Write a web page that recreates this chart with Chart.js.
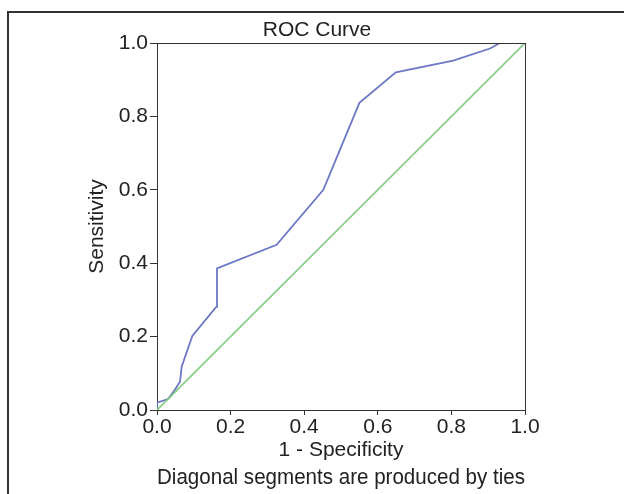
<!DOCTYPE html>
<html>
<head>
<meta charset="utf-8">
<script src="https://cdn.jsdelivr.net/npm/chart.js@4/dist/chart.umd.min.js"></script>
<style>
  html, body { margin: 0; padding: 0; background: #fff; }
  #wrap { position: relative; width: 624px; height: 494px; }
  #frame { position: absolute; left: 7px; top: 11px; right: 0; bottom: 0;
           border-left: 2px solid #333; border-top: 2px solid #333; }
  canvas { position: absolute; left: 0; top: 0; }
</style>
</head>
<body>
<div id="wrap">
  <div id="frame"></div>
  <canvas id="c" width="624" height="494"></canvas>
</div>
<script>
// Data
const fpr = [0.0, 0.0, 0.03, 0.045, 0.0625, 0.067, 0.096, 0.161, 0.163, 0.325, 0.452, 0.55, 0.649, 0.805, 0.905, 0.932, 1.0];
const tpr = [0.0, 0.02, 0.03, 0.05, 0.077, 0.118, 0.202, 0.281, 0.386, 0.45, 0.6, 0.837, 0.92, 0.952, 0.985, 1.0, 1.0];
const refX = [0.0, 1.0];
const refY = [0.0, 1.0];
const tickValues = [0.0, 0.2, 0.4, 0.6, 0.8, 1.0];
const tickLabels = ['0.0', '0.2', '0.4', '0.6', '0.8', '1.0'];

const FONT = "'Liberation Sans', Arial, sans-serif";
const FS = 21;
const roc = fpr.map((x, i) => ({ x: x, y: tpr[i] }));
const ref = refX.map((x, i) => ({ x: x, y: refY[i] }));

function labelFor(v) {
  const i = tickValues.findIndex(t => Math.abs(t - v) < 1e-6);
  return i >= 0 ? tickLabels[i] : '';
}

const framePlugin = {
  id: 'frameTop',
  afterDatasetsDraw(chart) {
    const { ctx, chartArea: a } = chart;
    ctx.save();
    ctx.strokeStyle = '#333';
    ctx.lineWidth = 1;
    ctx.beginPath();
    ctx.moveTo(a.left, a.top + 0.5);
    ctx.lineTo(a.right + 0.5, a.top + 0.5);
    ctx.stroke();
    ctx.restore();
  }
};

Chart.defaults.font.family = FONT;
Chart.defaults.color = '#222';

new Chart(document.getElementById('c'), {
  type: 'scatter',
  data: {
    datasets: [
      { data: roc, showLine: true, borderColor: 'rgb(108,120,196)', borderWidth: 1.8,
        pointRadius: 0, tension: 0, order: 2 },
      { data: ref, showLine: true, borderColor: 'rgba(125,202,125,0.9)', borderWidth: 1.8,
        pointRadius: 0, tension: 0, order: 1 }
    ]
  },
  options: {
    responsive: false,
    animation: false,
    layout: { padding: { left: 10, right: 0, top: 0, bottom: 0 } },
    plugins: {
      legend: { display: false },
      tooltip: { enabled: false },
      title: { display: true, text: 'ROC Curve', color: '#222',
               font: { size: FS, weight: 'normal', family: FONT },
               padding: { top: 17.8, bottom: 0 } },
      subtitle: { display: true, position: 'bottom', fullSize: false,
                  text: 'Diagonal segments are produced by ties', color: '#222',
                  font: { size: 22, weight: 'normal', family: FONT },
                  padding: { top: 1.8, bottom: 2.8 } }
    },
    scales: {
      x: {
        type: 'linear', min: 0, max: 1,
        afterFit(s) { s.height = 53; },
        afterBuildTicks(s) { s.ticks = tickValues.map(v => ({ value: v })); },
        ticks: { callback: v => labelFor(v), padding: 0, color: '#222',
                 font: { size: FS, family: FONT }, maxRotation: 0 },
        grid: { display: true, drawOnChartArea: false, drawTicks: true, tickLength: 5,
                color: '#333', lineWidth: 1 },
        border: { display: true, color: '#333', width: 1 },
        title: { display: true, text: '1 - Specificity', color: '#222',
                 font: { size: FS, family: FONT }, padding: { top: 0, bottom: 0 } }
      },
      y: {
        type: 'linear', min: 0, max: 1,
        afterFit(s) { s.width = 147; },
        afterBuildTicks(s) { s.ticks = tickValues.map(v => ({ value: v })); },
        ticks: { callback: v => labelFor(v), padding: 2, color: '#222',
                 font: { size: FS, family: FONT } },
        grid: { display: true, drawOnChartArea: false, drawTicks: true, tickLength: 7,
                color: '#333', lineWidth: 1 },
        border: { display: true, color: '#333', width: 1 },
        title: { display: true, text: 'Sensitivity', color: '#222',
                 font: { size: FS, family: FONT }, padding: { top: 74.4, bottom: 0 } }
      },
      y2: {
        type: 'linear', position: 'right', min: 0, max: 1,
        afterFit(s) { s.width = 99; },
        ticks: { display: false },
        grid: { display: false, drawTicks: false },
        border: { display: true, color: '#333', width: 1 }
      }
    }
  },
  plugins: [framePlugin]
});
</script>
</body>
</html>
